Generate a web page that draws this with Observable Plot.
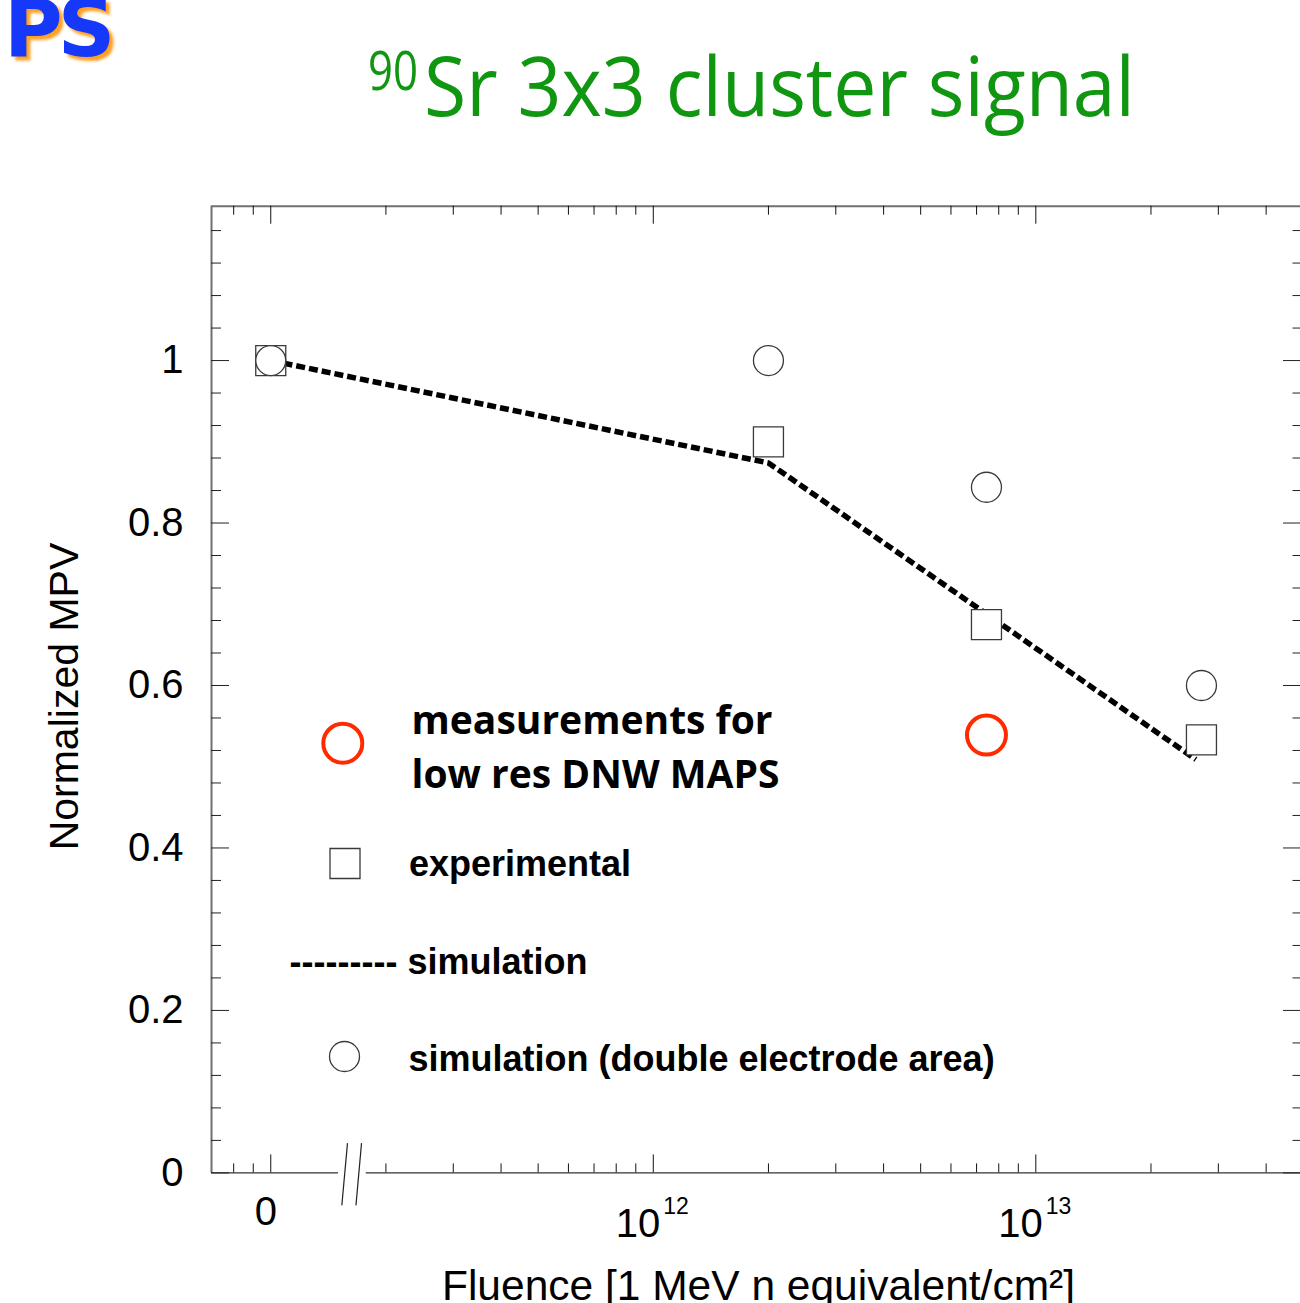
<!DOCTYPE html>
<html><head><meta charset="utf-8">
<script src="https://cdn.jsdelivr.net/npm/d3@7"></script>
<script src="https://cdn.jsdelivr.net/npm/@observablehq/plot@0.6"></script>
<style>
html,body{margin:0;padding:0;background:#fff;overflow:hidden;width:1300px;height:1303px}
#wrap{position:relative;width:1300px;height:1303px}
#chart{position:absolute;left:0;top:0}
#logo{position:absolute;left:4px;top:-18px;font:bold 80px "DejaVu Sans";line-height:normal;color:#1638f8;text-shadow:4px 4px 3px #ffa020;letter-spacing:-5px}
#title{position:absolute;left:0;top:0}
</style></head><body><div id="wrap"><div id="chart"></div><div id="logo">PS</div><svg id="title" width="1300" height="140"></svg></div>
<script>
// ---- data ----
const fluence = [1e11, 2e12, 7.43e12, 2.71e13];          // 1e11 position is labelled "0"
const experimental = [1.0, 0.90, 0.675, 0.533];          // squares
const simDoubleElectrode = [1.0, 1.0, 0.844, 0.60];      // open circles
const simFluence = [1e11, 2e12, 7.43e12, 2.62e13];
const simulation = [1.0, 0.874, 0.688, 0.509];           // dashed line
const dnwFluence = [7.43e12];
const dnwMeasured = [0.539];                             // red circle

// ---- axes / ticks ----
const xMajorTicks = [1e11, 1e12, 1e13];
const xMinorTicks = [8e10, 9e10, 2e11, 3e11, 4e11, 5e11, 6e11, 7e11, 8e11, 9e11,
  2e12, 3e12, 4e12, 5e12, 6e12, 7e12, 8e12, 9e12, 2e13, 3e13, 4e13];
const xTickBase = ["0", "10", "10"];
const xTickSup = ["", "12", "13"];
const yMajorTicks = [0, 0.2, 0.4, 0.6, 0.8, 1.0];
const yMinorTicks = [0.04, 0.08, 0.12, 0.16, 0.24, 0.28, 0.32, 0.36, 0.44, 0.48, 0.52, 0.56,
  0.64, 0.68, 0.72, 0.76, 0.84, 0.88, 0.92, 0.96, 1.04, 1.08, 1.12, 1.16];
const yTickLabels = ["0", "0.2", "0.4", "0.6", "0.8", "1"];
const axisBreak = [{x1: 1.534e11, x2: 1.587e11}, {x1: 1.670e11, x2: 1.727e11}];
const breakSpan = [-0.040, 0.0366];
const xDomain = [7e10, 5e13];
const yDomain = [0, 1.19];

// ---- texts ----
const titleSup = "90";
const titleMain = "Sr 3x3 cluster signal";
const xTitle = "Fluence [1 MeV n equivalent/cm²]";
const yTitle = "Normalized MPV";
const legendDNW = ["measurements for", "low res DNW MAPS"];
const legendExp = "experimental";
const legendSim = "--------- simulation";
const legendDouble = "simulation (double electrode area)";

// ---- tables ----
const expData = fluence.map((f, i) => ({f, v: experimental[i]}));
const dblData = fluence.map((f, i) => ({f, v: simDoubleElectrode[i]}));
const simData = simFluence.map((f, i) => ({f, v: simulation[i]}));
const dnwData = dnwFluence.map((f, i) => ({f, v: dnwMeasured[i]}));
const xLab = xMajorTicks.map((t, i) => ({t, base: xTickBase[i], sup: xTickSup[i]}));
const yLab = yMajorTicks.map((t, i) => ({t, s: yTickLabels[i]}));

// ---- layout ----
const W = 1300, H = 1303, ML = 211, MT = 205.7, MB = 130.6, MR = 0;
const FW = W - ML - MR, FH = H - MT - MB;
const RED = "#ff2a00", MK = "#3a3a3a", FRAME = "#707070";
const sans = "Liberation Sans, Arial, Helvetica, sans-serif";

const chart = Plot.plot({
  width: W, height: H,
  marginLeft: ML, marginTop: MT, marginBottom: MB, marginRight: MR,
  x: {type: "log", domain: xDomain, range: [211, 1302.7], axis: null},
  y: {domain: yDomain, range: [1172.4, 205.7], axis: null},
  style: {background: "white", fontFamily: sans, color: "black", overflow: "visible"},
  marks: [
    // frame
    Plot.ruleX([xDomain[0]], {stroke: FRAME, strokeWidth: 2}),
    Plot.ruleY([yDomain[1]], {stroke: FRAME, strokeWidth: 2}),
    Plot.ruleY(axisBreak.slice(0, 1), {y: () => 0, x1: () => xDomain[0], x2: d => d.x1 - 0.03e11, stroke: "#333", strokeWidth: 1.4}),
    Plot.ruleY(axisBreak.slice(1), {y: () => 0, x1: d => d.x2 + 0.05e11, x2: () => xDomain[1], stroke: "#333", strokeWidth: 1.4}),
    // axis break marks
    Plot.link(axisBreak, {x1: "x1", x2: "x2", y1: () => breakSpan[0], y2: () => breakSpan[1], stroke: "#222", strokeWidth: 1.2}),
    // x ticks (bottom, top)
    Plot.tickX(xMajorTicks, {x: d => d, insetTop: FH - 18, stroke: "#111", strokeWidth: 1}),
    Plot.tickX(xMinorTicks, {x: d => d, insetTop: FH - 9, stroke: "#111", strokeWidth: 1}),
    Plot.tickX(xMajorTicks, {x: d => d, insetBottom: FH - 18, stroke: "#111", strokeWidth: 1}),
    Plot.tickX(xMinorTicks, {x: d => d, insetBottom: FH - 9, stroke: "#111", strokeWidth: 1}),
    // y ticks (left, right)
    Plot.tickY(yMajorTicks, {y: d => d, insetRight: FW - 18, stroke: "#222", strokeWidth: 1}),
    Plot.tickY(yMinorTicks, {y: d => d, insetRight: FW - 10, stroke: "#222", strokeWidth: 1}),
    Plot.tickY(yMajorTicks, {y: d => d, insetLeft: FW - 17, stroke: "#222", strokeWidth: 1}),
    Plot.tickY(yMinorTicks, {y: d => d, insetLeft: FW - 7.5, stroke: "#222", strokeWidth: 1}),
    // tick labels
    Plot.text(yLab, {y: "t", text: "s", frameAnchor: "left", dx: -28, textAnchor: "end", fontSize: 40}),
    Plot.text(xLab.slice(0, 1), {x: "t", text: "base", frameAnchor: "bottom", dx: -5, dy: 52, lineAnchor: "bottom", textAnchor: "middle", fontSize: 40}),
    Plot.text(xLab.slice(1), {x: "t", text: "base", frameAnchor: "bottom", dx: 7, dy: 64, lineAnchor: "bottom", textAnchor: "end", fontSize: 40}),
    Plot.text(xLab.slice(1), {x: "t", text: "sup", frameAnchor: "bottom", dx: 10, dy: 41, lineAnchor: "bottom", textAnchor: "start", fontSize: 23}),
    // axis titles
    Plot.text([xTitle], {text: d => d, frameAnchor: "bottom", dx: 2.5, dy: 127, lineAnchor: "bottom", textAnchor: "middle", fontSize: 42.5}),
    Plot.text([yTitle], {text: d => d, frameAnchor: "left", dx: -134, dy: 7, rotate: -90, lineAnchor: "bottom", textAnchor: "middle", fontSize: 41}),
    // data
    Plot.line(simData, {x: "f", y: "v", stroke: "black", strokeWidth: 5.5, strokeDasharray: "9,4", strokeLinecap: "butt"}),
    Plot.dot(expData, {x: "f", y: "v", symbol: "square", r: 16.93, fill: "white", stroke: MK, strokeWidth: 1.3}),
    Plot.dot(dblData, {x: "f", y: "v", r: 15, fill: "white", stroke: MK, strokeWidth: 1.3}),
    Plot.dot(dnwData, {x: "f", y: "v", r: 19.5, fill: "none", stroke: RED, strokeWidth: 4}),
    // legend (inside the frame)
    Plot.dot([legendDNW[0]], {frameAnchor: "top-left", dx: 131.3, dy: 537.1, r: 19.5, fill: "none", stroke: RED, strokeWidth: 4}),
    Plot.text(legendDNW.slice(0, 1), {text: d => d, frameAnchor: "top-left", dx: 200, dy: 527.3, lineAnchor: "bottom", textAnchor: "start", fontSize: 39, fontWeight: "bold", fontFamily: "Open Sans"}),
    Plot.text(legendDNW.slice(1), {text: d => d, frameAnchor: "top-left", dx: 200, dy: 581.3, lineAnchor: "bottom", textAnchor: "start", fontSize: 39, fontWeight: "bold", fontFamily: "Open Sans"}),
    Plot.dot([legendExp], {frameAnchor: "top-left", dx: 133.5, dy: 657.3, symbol: "square", r: 16.93, fill: "white", stroke: MK, strokeWidth: 1.3}),
    Plot.text([legendExp], {text: d => d, frameAnchor: "top-left", dx: 197.5, dy: 669.3, lineAnchor: "bottom", textAnchor: "start", fontSize: 36, fontWeight: "bold"}),
    Plot.text([legendSim], {text: d => d, frameAnchor: "top-left", dx: 78, dy: 767.3, lineAnchor: "bottom", textAnchor: "start", fontSize: 36, fontWeight: "bold"}),
    Plot.dot([legendDouble], {frameAnchor: "top-left", dx: 133, dy: 850.3, r: 15, fill: "white", stroke: MK, strokeWidth: 1.3}),
    Plot.text([legendDouble], {text: d => d, frameAnchor: "top-left", dx: 197, dy: 864.3, lineAnchor: "bottom", textAnchor: "start", fontSize: 36, fontWeight: "bold"})
  ]
});
document.getElementById("chart").appendChild(chart);

// title
const GREEN = "#109610";
const t = d3.select("#title");
t.append("text").attr("x", 368).attr("y", 90).attr("font-size", 54).attr("font-family", "Open Sans")
  .attr("fill", GREEN).attr("textLength", 50).attr("lengthAdjust", "spacingAndGlyphs").text(titleSup);
t.append("text").attr("x", 424).attr("y", 116).attr("font-size", 83).attr("font-family", "Open Sans")
  .attr("fill", GREEN).attr("textLength", 711).attr("lengthAdjust", "spacingAndGlyphs").text(titleMain);
</script></body></html>
